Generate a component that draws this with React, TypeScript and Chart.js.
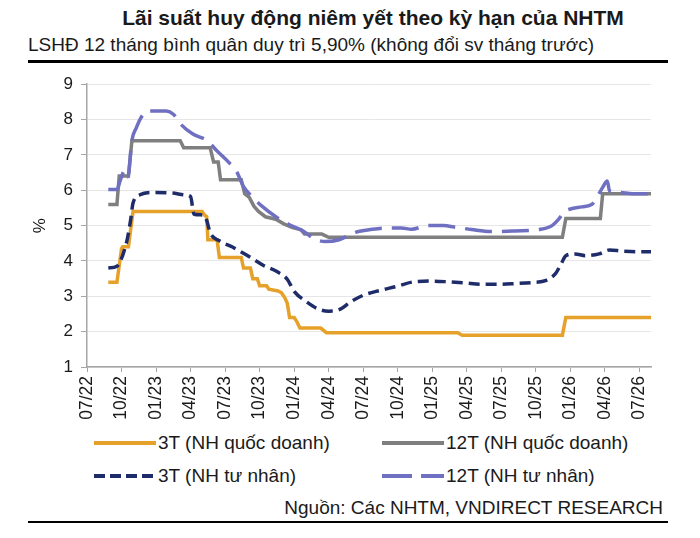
import React, { useEffect, useRef } from 'react';
import { Chart, registerables } from 'chart.js';

Chart.register(...registerables);

const FONT = '"Liberation Sans", Arial, sans-serif';
const TEXT = '#1a1a1a';
const AXIS = '#A6A6A6';

const ORANGE = '#E6A12B';
const GRAY = '#7F7F7F';
const NAVY = '#1F2C6A';
const PURPLE = '#7070C2';

// x values are months counted from 07/22
const tickLabels = [
  '07/22', '10/22', '01/23', '04/23', '07/23', '10/23', '01/24', '04/24', '07/24',
  '10/24', '01/25', '04/25', '07/25', '10/25', '01/26', '04/26', '07/26'
];

const seriesLabels = ['3T (NH quốc doanh)', '12T (NH quốc doanh)', '3T (NH tư nhân)', '12T (NH tư nhân)'];

// 3T - state banks
const state3TMonths = [
  1.85, 2.6, 3.0, 3.1, 3.6, 4.0, 10.0, 10.2, 10.4, 10.5, 11.3, 11.5, 13.4, 13.6, 14.2, 14.4,
  14.8, 15.0, 15.6, 15.8, 16.6, 16.9, 17.2, 17.4, 17.6, 18.0, 18.2, 18.5, 20.3, 20.8, 32.2,
  32.6, 41.3, 41.6, 49
];
const state3TRates = [
  3.4, 3.4, 4.35, 4.4, 4.4, 5.4, 5.4, 5.3, 5.25, 4.6, 4.6, 4.1, 4.1, 3.8, 3.8, 3.5,
  3.5, 3.3, 3.3, 3.2, 3.15, 3.1, 2.95, 2.8, 2.4, 2.4, 2.3, 2.1, 2.1, 1.97, 1.97,
  1.9, 1.9, 2.4, 2.4
];

// 12T - state banks
const state12TMonths = [
  1.85, 2.6, 2.8, 3.6, 3.9, 8.1, 8.4, 10.7, 11.0, 11.4, 11.6, 13.4, 13.7, 14.1, 14.5, 14.9,
  15.5, 16.4, 17.1, 17.8, 18.6, 18.9, 20.4, 21.0, 41.3, 41.6, 44.6, 44.8, 49
];
const state12TRates = [
  5.6, 5.6, 6.4, 6.4, 7.4, 7.4, 7.2, 7.2, 6.8, 6.8, 6.3, 6.3, 5.9, 5.8, 5.55, 5.4,
  5.25, 5.18, 5.05, 4.95, 4.88, 4.76, 4.76, 4.67, 4.67, 5.2, 5.2, 5.9, 5.9
];

// 3T - private banks
const private3TMonths = [
  1.85, 2.6, 3.1, 3.5, 3.8, 4.0, 4.6, 5.6, 7.4, 8.5, 9.0, 9.3, 10.1, 10.4, 10.7, 11.5,
  12.6, 13.9, 15.3, 16.5, 17.4, 18.0, 19.1, 20.1, 21.0, 21.9, 22.9, 24.0, 25.5, 26.9,
  28.4, 29.9, 31.4, 32.8, 34.3, 35.7, 37.2, 38.7, 39.9, 40.7, 41.2, 41.6, 42.4, 43.3,
  44.5, 45.4, 46.5, 48.0, 49
];
const private3TRates = [
  3.8, 3.85, 4.16, 4.62, 5.18, 5.64, 5.87, 5.94, 5.92, 5.87, 5.82, 5.32, 5.3, 5.15, 4.8, 4.57,
  4.4, 4.16, 3.88, 3.7, 3.48, 3.14, 2.84, 2.64, 2.58, 2.62, 2.84, 3.03, 3.17, 3.28,
  3.41, 3.43, 3.41, 3.38, 3.34, 3.34, 3.36, 3.39, 3.45, 3.64, 3.92, 4.15, 4.2, 4.15,
  4.2, 4.31, 4.28, 4.26, 4.26
];

// 12T - private banks
const private12TMonths = [
  1.85, 2.6, 2.9, 3.3, 3.55, 3.9, 4.3, 4.6, 5.2, 6.9, 7.5, 8.2, 9.2, 10.4, 11.3, 12.4,
  13.0, 13.6, 14.3, 15.2, 16.4, 17.5, 18.7, 19.8, 20.7, 21.9, 23.3, 24.5, 25.8, 27.3,
  28.2, 29.6, 31.0, 31.9, 33.4, 35.1, 37.2, 39.3, 40.4, 41.0, 41.5, 42.0, 43.0, 43.9,
  44.3, 44.8, 45.2, 45.4, 46.2, 47.4, 49
];
const private12TRates = [
  6.02, 6.02, 6.29, 6.57, 6.38, 7.41, 7.78, 8.0, 8.24, 8.24, 8.15, 7.85, 7.59, 7.41, 7.11, 6.76,
  6.53, 6.1, 5.83, 5.55, 5.25, 5.04, 4.86, 4.62, 4.55, 4.6, 4.81, 4.88, 4.93, 4.93,
  4.9, 5.0, 5.0, 4.96, 4.89, 4.83, 4.85, 4.89, 5.0, 5.19, 5.4, 5.47, 5.53, 5.61,
  5.8, 6.08, 6.26, 5.98, 5.94, 5.9, 5.9
];

const toPoints = (xs: number[], ys: number[]) => xs.map((x, i) => ({ x, y: ys[i] }));

const LegendItem = ({ left, top, color, dash, label }: { left: number; top: number; color: string; dash?: string; label: string }) => (
  <div style={{ position: 'absolute', left, top, height: 24, display: 'flex', alignItems: 'center' }}>
    <svg width={62} height={8}>
      <line x1={0} y1={4} x2={62} y2={4} stroke={color} strokeWidth={4} strokeDasharray={dash} />
    </svg>
    <span style={{ marginLeft: 2, fontSize: 19, lineHeight: '24px', color: TEXT, whiteSpace: 'nowrap' }}>{label}</span>
  </div>
);

const App = () => {
  const canvasRef = useRef<HTMLCanvasElement | null>(null);

  useEffect(() => {
    if (!canvasRef.current) return;
    const chart = new Chart(canvasRef.current, {
      type: 'line',
      data: {
        datasets: [
          {
            label: seriesLabels[0],
            data: toPoints(state3TMonths, state3TRates),
            borderColor: ORANGE,
            borderWidth: 3.5,
            pointRadius: 0,
            tension: 0,
            order: 4
          },
          {
            label: seriesLabels[1],
            data: toPoints(state12TMonths, state12TRates),
            borderColor: GRAY,
            borderWidth: 3.5,
            pointRadius: 0,
            tension: 0,
            order: 3
          },
          {
            label: seriesLabels[2],
            data: toPoints(private3TMonths, private3TRates),
            borderColor: NAVY,
            borderWidth: 3.5,
            borderDash: [11, 6],
            pointRadius: 0,
            cubicInterpolationMode: 'monotone',
            order: 2
          },
          {
            label: seriesLabels[3],
            data: toPoints(private12TMonths, private12TRates),
            borderColor: PURPLE,
            borderWidth: 3.5,
            borderDash: [27, 10],
            pointRadius: 0,
            cubicInterpolationMode: 'monotone',
            order: 1
          }
        ]
      },
      options: {
        animation: false,
        responsive: true,
        maintainAspectRatio: false,
        layout: { padding: { top: 14, right: 49, bottom: 0, left: 30 } },
        plugins: {
          legend: { display: false },
          tooltip: { enabled: false }
        },
        scales: {
          x: {
            type: 'linear',
            min: 0,
            max: 49,
            border: { color: AXIS, width: 1.5 },
            grid: { drawOnChartArea: false, drawTicks: true, tickLength: 5, tickColor: AXIS },
            ticks: {
              stepSize: 3,
              includeBounds: false,
              autoSkip: false,
              minRotation: 90,
              maxRotation: 90,
              padding: 4,
              color: TEXT,
              font: { family: FONT, size: 17.5 },
              callback: (value) => tickLabels[(value as number) / 3] ?? ''
            },
            afterFit: (scale) => {
              scale.height = 59;
            }
          },
          y: {
            min: 1,
            max: 9,
            border: { color: AXIS, width: 1.5 },
            grid: { color: '#E6E6E6', lineWidth: 1, tickLength: 6, tickColor: AXIS },
            ticks: {
              stepSize: 1,
              padding: 8,
              color: TEXT,
              font: { family: FONT, size: 17 }
            },
            title: {
              display: true,
              text: '%',
              color: TEXT,
              padding: 0,
              font: { family: FONT, size: 17 }
            },
            afterFit: (scale) => {
              scale.width = 57;
            }
          }
        }
      }
    });
    return () => chart.destroy();
  }, []);

  return (
    <div style={{ position: 'absolute', left: 0, top: 0, width: 700, height: 538, background: '#fff', fontFamily: FONT, color: TEXT }}>
      <div style={{ position: 'absolute', left: 0, width: 746, top: 5, textAlign: 'center', fontSize: 21, fontWeight: 'bold', lineHeight: '26px', whiteSpace: 'nowrap' }}>
        Lãi suất huy động niêm yết theo kỳ hạn của NHTM
      </div>
      <div style={{ position: 'absolute', left: 28, top: 33, fontSize: 19, lineHeight: '24px', whiteSpace: 'nowrap' }}>
        LSHĐ 12 tháng bình quân duy trì 5,90% (không đổi sv tháng trước)
      </div>
      <div style={{ position: 'absolute', left: 28, top: 60, width: 640, height: 3, background: '#000' }} />

      <div style={{ position: 'absolute', left: 0, top: 66, width: 700, height: 360 }}>
        <canvas ref={canvasRef}></canvas>
      </div>

      <LegendItem left={94} top={431} color={ORANGE} label={seriesLabels[0]} />
      <LegendItem left={382} top={431} color={GRAY} label={seriesLabels[1]} />
      <LegendItem left={94} top={464} color={NAVY} dash="11 5" label={seriesLabels[2]} />
      <LegendItem left={382} top={464} color={PURPLE} dash="30 9" label={seriesLabels[3]} />

      <div style={{ position: 'absolute', right: 37, top: 496, fontSize: 19, lineHeight: '24px', whiteSpace: 'nowrap' }}>
        Nguồn: Các NHTM, VNDIRECT RESEARCH
      </div>
      <div style={{ position: 'absolute', left: 28, top: 521, width: 640, height: 2, background: '#000' }} />
    </div>
  );
};

export default App;
